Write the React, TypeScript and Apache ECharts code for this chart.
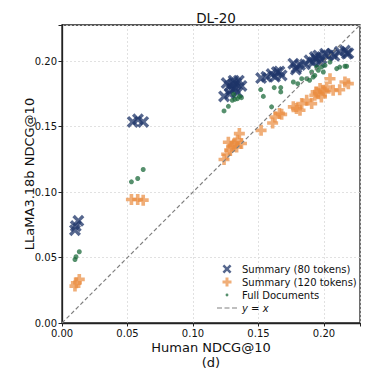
import React, { useEffect, useRef } from "react";
import * as echarts from "echarts";

const TITLE = "DL-20";
const X_NAME = "Human NDCG@10";
const X_SUB = "(d)";
const Y_NAME = "LLaMA3.18b NDCG@10";
const AXIS_MIN = 0;
const AXIS_MAX = 0.2275;
const TICK_STEP = 0.05;

const summary80: [number, number][] = [
  [0.0099, 0.0709], [0.0125, 0.078], [0.0105, 0.074],
  [0.054, 0.1535], [0.058, 0.1555], [0.062, 0.1535],
  [0.1237, 0.173], [0.1257, 0.1832], [0.128, 0.181], [0.131, 0.185], [0.133, 0.183],
  [0.135, 0.185], [0.1295, 0.178], [0.132, 0.179], [0.137, 0.181], [0.128, 0.175],
  [0.134, 0.176], [0.1305, 0.1825],
  [0.152, 0.187], [0.156, 0.188], [0.16, 0.19], [0.164, 0.1916], [0.1677, 0.189],
  [0.166, 0.192], [0.1626, 0.188],
  [0.1766, 0.198], [0.179, 0.195], [0.1817, 0.197], [0.1855, 0.1975], [0.189, 0.2005],
  [0.193, 0.203], [0.1957, 0.2043], [0.198, 0.2018], [0.2008, 0.2056], [0.2033, 0.2043],
  [0.2059, 0.2056], [0.208, 0.204], [0.212, 0.207], [0.216, 0.208], [0.2186, 0.206],
  [0.1916, 0.199], [0.194, 0.2018], [0.197, 0.199], [0.2175, 0.2056], [0.1785, 0.1935],
];

const summary120: [number, number][] = [
  [0.0099, 0.0282], [0.011, 0.0307], [0.0132, 0.0333],
  [0.053, 0.0943], [0.0578, 0.0943], [0.062, 0.0938],
  [0.1237, 0.1248], [0.1257, 0.1288], [0.127, 0.138], [0.1295, 0.1344], [0.132, 0.1375],
  [0.134, 0.1395], [0.1354, 0.1446], [0.137, 0.137], [0.131, 0.1357], [0.128, 0.132],
  [0.1333, 0.1344],
  [0.152, 0.1471], [0.1608, 0.1527], [0.1626, 0.1573], [0.166, 0.16], [0.1677, 0.1593],
  [0.1766, 0.165], [0.179, 0.1637], [0.1817, 0.1624], [0.183, 0.1675], [0.1868, 0.17],
  [0.1906, 0.1675], [0.193, 0.1738], [0.194, 0.1764], [0.197, 0.179], [0.198, 0.1726],
  [0.2008, 0.1764], [0.202, 0.1802], [0.2046, 0.1865], [0.207, 0.1776], [0.212, 0.1781],
  [0.216, 0.184], [0.2186, 0.1827], [0.1957, 0.1751], [0.1995, 0.1776],
];

const fullDocs: [number, number][] = [
  [0.0099, 0.0485], [0.0107, 0.0506], [0.0132, 0.0544],
  [0.053, 0.1078], [0.0578, 0.1103], [0.062, 0.1172],
  [0.1237, 0.1619], [0.127, 0.1654], [0.13, 0.17], [0.132, 0.1708], [0.134, 0.1713],
  [0.1354, 0.173], [0.137, 0.172], [0.131, 0.1746],
  [0.1517, 0.1782], [0.1537, 0.173], [0.16, 0.165], [0.162, 0.1797], [0.167, 0.1797],
  [0.167, 0.1764],
  [0.1766, 0.184], [0.18, 0.1827], [0.183, 0.1865], [0.1868, 0.1865], [0.1906, 0.1916],
  [0.193, 0.189], [0.1957, 0.1929], [0.198, 0.1954], [0.2008, 0.1967], [0.2046, 0.1992],
  [0.2097, 0.1942], [0.212, 0.1954], [0.216, 0.196], [0.2173, 0.196], [0.1944, 0.1954],
  [0.1995, 0.1916], [0.1918, 0.1878], [0.189, 0.1853],
];

const identityLine: [number, number][] = [[AXIS_MIN, AXIS_MIN], [AXIS_MAX, AXIS_MAX]];

const X_PATH =
  "path://M-1,-0.6 L-0.6,-1 L0,-0.4 L0.6,-1 L1,-0.6 L0.4,0 L1,0.6 L0.6,1 L0,0.4 L-0.6,1 L-1,0.6 L-0.4,0 Z";
const PLUS_PATH =
  "path://M-0.33,-1 L0.33,-1 L0.33,-0.33 L1,-0.33 L1,0.33 L0.33,0.33 L0.33,1 L-0.33,1 L-0.33,0.33 L-1,0.33 L-1,-0.33 L-0.33,-0.33 Z";
const LEGEND_DOT = "path://M-1,-1 M1,1 M0.32,0 A0.32,0.32 0 1 1 -0.32,0 A0.32,0.32 0 1 1 0.32,0 Z";
const LEGEND_DASH =
  "path://M0,0 L5,0 L5,1 L0,1 Z M7.5,0 L12.5,0 L12.5,1 L7.5,1 Z M15,0 L20,0 L20,1 L15,1 Z";

const FONT = "DejaVu Sans";

export default function App() {
  const ref = useRef<HTMLDivElement>(null);
  useEffect(() => {
    if (!ref.current) return;
    const chart = echarts.init(ref.current, null, { renderer: "svg" });
    const fmt = (v: number) => {
      const r = Math.round(v / TICK_STEP);
      if (Math.abs(v - r * TICK_STEP) > 1e-6) return "";
      return v.toFixed(2);
    };
    const axisCommon = {
      type: "value",
      min: AXIS_MIN,
      max: AXIS_MAX,
      interval: TICK_STEP,
      nameMoveOverlap: false,
      axisLine: { show: true, lineStyle: { color: "#222", width: 1.3 } },
      axisTick: { show: true, length: 3.5, lineStyle: { color: "#222" } },
      splitLine: { show: true, lineStyle: { color: "#d9d9d9", type: [2, 2], width: 0.8 } },
    };
    chart.setOption({
      animation: false,
      backgroundColor: "#fff",
      title: {
        text: TITLE,
        left: 211,
        textAlign: "center",
        top: 6,
        textStyle: { fontFamily: FONT, fontSize: 13.5, fontWeight: "normal", color: "#111" },
      },
      grid: {
        left: 62,
        top: 25,
        right: 19,
        bottom: 56,
        show: true,
        borderColor: "#222",
        borderWidth: 1.3,
        backgroundColor: "transparent",
      },
      xAxis: {
        ...axisCommon,
        name: X_NAME + "\n" + X_SUB,
        nameLocation: "middle",
        nameGap: 16.5,
        nameTextStyle: { fontFamily: FONT, fontSize: 13, color: "#111", lineHeight: 15, verticalAlign: "top" },
        axisLabel: { formatter: fmt, fontFamily: FONT, fontSize: 10, color: "#111", margin: 5 },
      },
      yAxis: {
        ...axisCommon,
        name: Y_NAME,
        nameLocation: "middle",
        nameGap: 33,
        nameTextStyle: { fontFamily: FONT, fontSize: 13, color: "#111", verticalAlign: "middle" },
        axisLabel: { formatter: fmt, fontFamily: FONT, fontSize: 10, color: "#111", margin: 5 },
      },
      legend: {
        orient: "vertical",
        left: 212,
        top: 259,
        itemWidth: 20,
        itemHeight: 9,
        itemGap: 3,
        textStyle: { fontFamily: FONT, fontSize: 10, color: "#111" },
        data: [
          { name: "Summary (80 tokens)", icon: X_PATH },
          { name: "Summary (120 tokens)", icon: PLUS_PATH },
          { name: "Full Documents", icon: LEGEND_DOT },
          { name: "y = x", icon: LEGEND_DASH, textStyle: { fontStyle: "italic" } },
        ],
      },
      series: [
        {
          name: "Summary (80 tokens)",
          type: "scatter",
          data: summary80,
          symbol: X_PATH,
          symbolSize: 12,
          symbolKeepAspect: true,
          itemStyle: { color: "#1d3468", opacity: 0.75 },
          z: 2,
        },
        {
          name: "Summary (120 tokens)",
          type: "scatter",
          data: summary120,
          symbol: PLUS_PATH,
          symbolSize: 11,
          symbolKeepAspect: true,
          itemStyle: { color: "#ea8c3f", opacity: 0.7 },
          z: 3,
        },
        {
          name: "Full Documents",
          type: "scatter",
          data: fullDocs,
          symbol: "circle",
          symbolSize: 5,
          itemStyle: { color: "#1d6b3c", opacity: 0.75 },
          z: 4,
        },
        {
          name: "y = x",
          type: "line",
          data: identityLine,
          symbol: "none",
          lineStyle: { color: "#808080", type: [4, 2.5], width: 1.2 },
          itemStyle: { color: "#808080" },
          z: 5,
        },
      ],
    });
    return () => chart.dispose();
  }, []);
  return <div ref={ref} style={{ width: 379, height: 379, margin: -8 }} />;
}
